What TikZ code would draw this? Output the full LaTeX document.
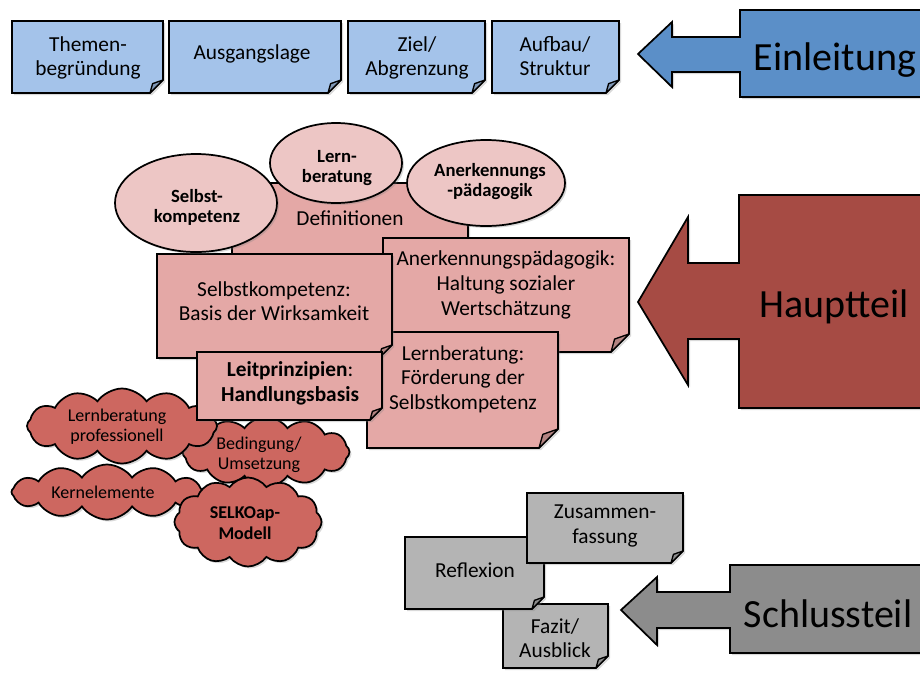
\documentclass[tikz,border=0pt]{standalone}
\usepackage{fontspec}
\setmainfont{Carlito}
\usetikzlibrary{shapes.geometric,shapes.symbols,shadows}
\definecolor{bluenote}{HTML}{A4C3EA}
\definecolor{bluearrow}{HTML}{5B8FC8}
\definecolor{pinknote}{HTML}{E4A8A6}
\definecolor{pinkell}{HTML}{EDC6C5}
\definecolor{redarrow}{HTML}{A64B44}
\definecolor{cloudred}{HTML}{CD6760}
\definecolor{graynote}{HTML}{B4B4B4}
\definecolor{grayarrow}{HTML}{8C8C8C}
\tikzset{
  outline/.style={draw=black, line width=1.3pt, line join=miter},
  shadowed/.style={drop shadow={shadow xshift=1.5pt, shadow yshift=-1.5pt, opacity=0.3}},
  notetext/.style={font=\fontsize{16}{18.5}\selectfont, align=center, inner sep=0},
  elltext/.style={font=\fontsize{14}{15}\selectfont\bfseries, align=center, inner sep=0},
  cloudtext/.style={font=\fontsize{13.5}{15}\selectfont, align=center, inner sep=0},
  bigtext/.style={font=\fontsize{30}{36}\selectfont, inner sep=0, anchor=base},
  ellbox/.style={ellipse, outline, shadowed, fill=pinkell, inner sep=0},
  cloudbox/.style={cloud, cloud puffs=12, cloud puff arc=110, cloud ignores aspect, outline, shadowed, fill=cloudred, inner sep=0},
  foldflap/.style={draw=black, line width=1pt, line join=round},
}
% x1, y1, x2, y2, fill colour, fold size
\newcommand{\notebox}[6]{%
  \draw[outline, shadowed, fill=#5] (#1,#2) -- (#3,#2) -- (#3,#4-#6) -- (#3-#6,#4) -- (#1,#4) -- cycle;
  \draw[foldflap, fill=#5!78!black] (#3,#4-#6) -- (#3-0.8*#6,#4-0.72*#6) .. controls (#3-0.92*#6,#4-0.4*#6) .. (#3-#6,#4) -- cycle;
}
\begin{document}
\begin{tikzpicture}[x=0.75pt,y=-0.75pt]
\useasboundingbox (0,0) rectangle (920,672);

% ---------- Einleitung ----------
\notebox{12}{21}{163}{93}{bluenote}{13}
\node[notetext] (themen) at (88,58) {Themen-\\begründung};
\notebox{169}{21}{341}{93}{bluenote}{13}
\node[notetext] (ausgang) at (252,54) {Ausgangslage};
\notebox{348}{21}{485}{93}{bluenote}{13}
\node[notetext] (ziel) at (417,58) {Ziel/\\Abgrenzung};
\notebox{492}{21}{619}{93}{bluenote}{13}
\node[notetext] (aufbau) at (555,56) {Aufbau/\\Struktur};

\draw[outline, shadowed, fill=bluearrow] (945,10) -- (740,10) -- (740,37) -- (672,37) -- (672,22) -- (638,54) -- (672,87) -- (672,72) -- (740,72) -- (740,97) -- (945,97) -- cycle;
\node[bigtext] (einl) at (835,70) {Einleitung};

% ---------- Hauptteil ----------
\node[cloudbox, minimum width=167*0.75pt, minimum height=70*0.75pt] (cbed) at (266,452) {};
\node[cloudtext] (tbed) at (259,455) {Bedingung/\\Umsetzung};
\node[cloudbox, minimum width=190*0.75pt, minimum height=75*0.75pt] (clp) at (122,426) {};
\node[cloudtext] (tlp) at (117,427) {Lernberatung\\professionell};
\node[cloudbox, minimum width=191*0.75pt, minimum height=55*0.75pt] (cker) at (107,492) {};
\node[cloudtext] (tker) at (103,492) {Kernelemente};
\node[cloudbox, minimum width=147*0.75pt, minimum height=89*0.75pt] (csel) at (248,522) {};
\node[cloudtext, font=\fontsize{13.5}{16}\selectfont\bfseries] (tsel) at (245,523) {SELKOap-\\Modell};

\notebox{232}{183}{468}{290}{pinknote}{18}
\node[notetext] (defs) at (350,218) {Definitionen};
\notebox{383}{238}{629}{352}{pinknote}{18}
\node[notetext] (anerk) at (506,285) {Anerkennungspädagogik:\\Haltung sozialer\\Wertschätzung};
\notebox{367}{332}{558}{448}{pinknote}{19}
\node[notetext] (lernb) at (463,379) {Lernberatung:\\Förderung der\\Selbstkompetenz};
\notebox{157}{254}{392}{358}{pinknote}{13}
\node[notetext] (selbst) at (274,301) {Selbstkompetenz:\\Basis der Wirksamkeit};
\notebox{197}{352}{382}{420}{pinknote}{12}
\node[notetext] (leit) at (290,383) {\textbf{Leitprinzipien}:\\\textbf{Handlungsbasis}};

\node[ellbox, minimum width=162*0.75pt, minimum height=98*0.75pt] (eselbst) at (196,203) {};
\node[elltext] (teselbst) at (197,207) {Selbst-\\kompetenz};
\node[ellbox, minimum width=132*0.75pt, minimum height=80*0.75pt] (elern) at (336,163) {};
\node[elltext] (telern) at (337,168) {Lern-\\beratung};
\node[ellbox, minimum width=158*0.75pt, minimum height=86*0.75pt] (eanerk) at (486,183) {};
\node[elltext] (teanerk) at (490,182) {Anerkennungs\\-pädagogik};

\draw[outline, shadowed, fill=redarrow] (945,195) -- (739,195) -- (739,263) -- (688,263) -- (688,217) -- (638,302) -- (688,385) -- (688,339) -- (739,339) -- (739,408) -- (945,408) -- cycle;
\node[bigtext] (haupt) at (834,317) {Hauptteil};

% ---------- Schlussteil ----------
\notebox{503}{604}{608}{668}{graynote}{12}
\node[notetext] (fazit) at (555,638) {Fazit/\\Ausblick};
\notebox{405}{537}{544}{609}{graynote}{12}
\node[notetext] (reflex) at (475,570) {Reflexion};
\notebox{527}{493}{683}{563}{graynote}{12}
\node[notetext] (zusam) at (605,526) {Zusammen-\\fassung};

\draw[outline, shadowed, fill=grayarrow] (945,565) -- (730,565) -- (730,592) -- (657,592) -- (657,577) -- (621,610) -- (657,645) -- (657,628) -- (730,628) -- (730,653) -- (945,653) -- cycle;
\node[bigtext] (schluss) at (828,627) {Schlussteil};
\end{tikzpicture}
\end{document}
